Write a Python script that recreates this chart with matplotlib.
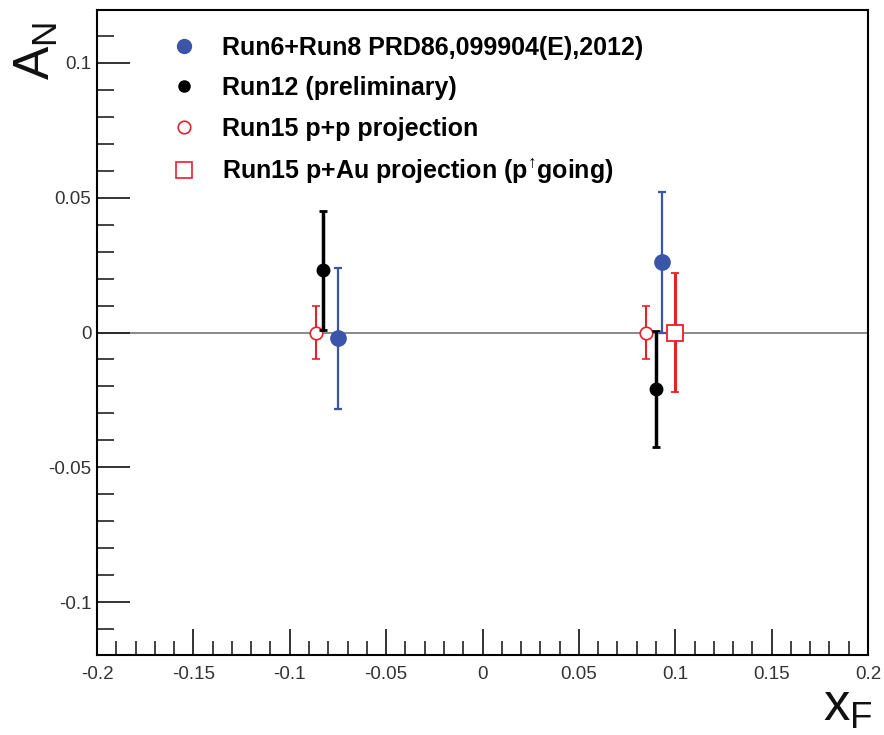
import numpy as np
import matplotlib
matplotlib.use("Agg")
import matplotlib.pyplot as plt
from matplotlib.lines import Line2D
from matplotlib.ticker import MultipleLocator, FuncFormatter

plt.rcParams['font.family'] = ['Liberation Sans', 'DejaVu Sans']
plt.rcParams['axes.unicode_minus'] = False
plt.rcParams['mathtext.default'] = 'regular'

# data
run68_x = [-0.075, 0.093]
run68_y = [-0.0022, 0.026]
run68_err = [0.026, 0.026]

run12_x = [-0.083, 0.090]
run12_y = [0.023, -0.021]
run12_err = [0.022, 0.0215]

pp_x = [-0.0865, 0.085]
pp_y = [0.0, 0.0]
pp_err = [0.010, 0.010]

pau_x = [0.100]
pau_y = [0.0]
pau_err = [0.022]

labels = ["Run6+Run8 PRD86,099904(E),2012)",
          "Run12 (preliminary)",
          "Run15 p+p projection",
          r"Run15 p+Au projection (p$^{\!\uparrow}\!$going)"]

blue = '#3b55a8'
red = '#e8202a'

fig = plt.figure(figsize=(8.84, 7.35), dpi=100)
ax = fig.add_axes([97/884, 1 - 655/735, (868-97)/884, (655-10)/735])

ax.axhline(0, color='#808080', lw=1.3, zorder=1)

ax.errorbar(pp_x, pp_y, yerr=pp_err, fmt='o', ms=9, mfc='white', mec=red,
            mew=1.2, ecolor=red, elinewidth=1.5, capsize=3, capthick=1.5, zorder=3)
ax.errorbar(pau_x, pau_y, yerr=pau_err, fmt='s', ms=12, mfc='white', mec=red,
            mew=1.3, ecolor=red, elinewidth=2.2, capsize=3, capthick=2, zorder=3)
ax.errorbar(run12_x, run12_y, yerr=run12_err, fmt='o', ms=9, color='black',
            elinewidth=2.5, capsize=3, capthick=2, zorder=4)
ax.errorbar(run68_x, run68_y, yerr=run68_err, fmt='o', ms=11, color=blue,
            elinewidth=1.6, capsize=3, capthick=1.6, zorder=4)

ax.set_xlim(-0.2, 0.2)
ax.set_ylim(-0.1195, 0.1195)

ax.xaxis.set_major_locator(MultipleLocator(0.05))
ax.xaxis.set_minor_locator(MultipleLocator(0.01))
ax.yaxis.set_major_locator(MultipleLocator(0.05))
ax.yaxis.set_minor_locator(MultipleLocator(0.01))

fmt = FuncFormatter(lambda v, p: '0' if abs(v) < 1e-9 else ('%g' % round(v, 3)))
ax.xaxis.set_major_formatter(fmt)
ax.yaxis.set_major_formatter(fmt)

ax.tick_params(which='both', direction='in', top=False, right=False,
               labelsize=13.5, labelcolor='#333333', color='#222222')
ax.tick_params(axis='x', which='major', length=19, width=1.3, pad=8)
ax.tick_params(axis='x', which='minor', length=10, width=1.2)
ax.tick_params(axis='y', which='major', length=24, width=1.3, pad=4)
ax.tick_params(axis='y', which='minor', length=12, width=1.2)
for s in ax.spines.values():
    s.set_linewidth(1.5)

handles = [
    Line2D([], [], ls='none', marker='o', ms=10, color=blue),
    Line2D([], [], ls='none', marker='o', ms=8, color='black'),
    Line2D([], [], ls='none', marker='o', ms=9, mfc='white', mec=red, mew=1.2),
    Line2D([], [], ls='none', marker='s', ms=11, mfc='white', mec=red, mew=1.2),
]
leg = ax.legend(handles, labels, loc='upper left', bbox_to_anchor=(0.068, 0.995),
                frameon=False, handlelength=1.0, handletextpad=1.0,
                labelspacing=0.66, prop={'weight': 'bold', 'size': 18})

fig.text(36/884, 1 - 51/735, r'$A_{N}$', rotation=90, fontsize=36,
         ha='center', va='center', color='#111111')
fig.text(848/884, 1 - 707/735, r'$x_{F}$', fontsize=38,
         ha='center', va='center', color='#111111')

fig.savefig('out.png', dpi=100)
